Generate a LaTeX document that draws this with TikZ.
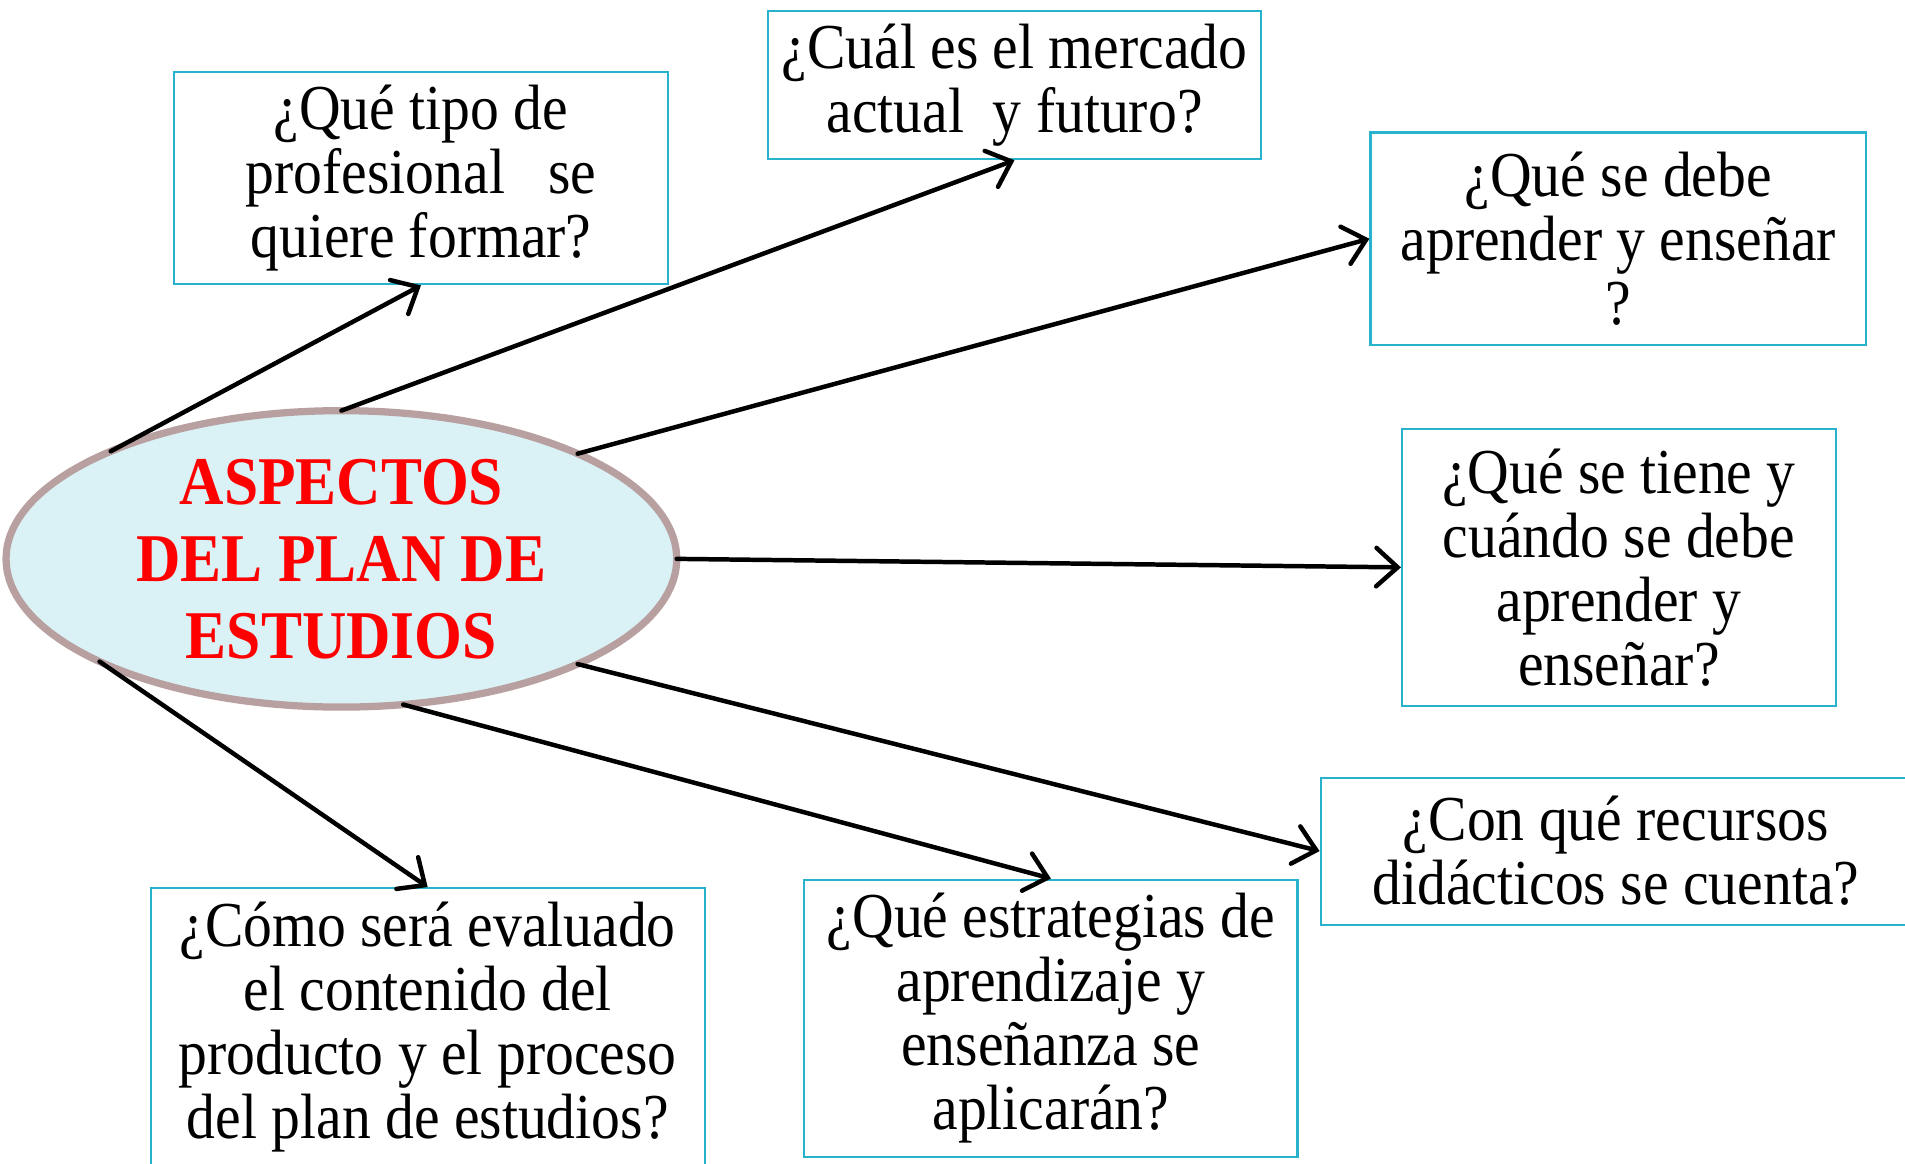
\documentclass[tikz,border=0pt]{standalone}
\usepackage{fontspec}
\setmainfont[FakeStretch=0.9]{Liberation Serif}
\usetikzlibrary{shapes.geometric, arrows.meta}
\definecolor{boxline}{RGB}{40,178,204}
\definecolor{ovalfill}{RGB}{218,242,246}
\definecolor{ovalline}{RGB}{185,160,160}

\begin{document}
\begin{tikzpicture}[question/.style={draw=boxline, line width=.5pt, align=center, inner sep=0pt, font=\fontsize{15}{15}\selectfont},
	link/.style={line width=1.05pt, line cap=round, -{Straight Barb[length=5pt,width=9pt,line cap=round]}}]
	\useasboundingbox (0,0) rectangle (15.68,-9.58);
	\node[ellipse, draw=ovalline, fill=ovalfill, line width=1.7pt, minimum width=5.52cm, minimum height=2.44cm, inner sep=0pt, outer sep=0pt, align=center, text=red, font=\bfseries\fontsize{16}{18}\selectfont] (plan) at (2.81,-4.60) {ASPECTOS\\DEL PLAN DE\\ESTUDIOS};
	\node[question, minimum width=4.07cm, minimum height=1.75cm] (tipo) at (3.465,-1.465) {¿Qué tipo de\\profesional \ \ se\\quiere formar?};
	\node[question, minimum width=4.06cm, minimum height=1.22cm] (mercado) at (8.35,-0.70) {¿Cuál es el mercado\\actual \ y futuro?};
	\node[question, minimum width=4.08cm, minimum height=1.75cm] (debe) at (13.32,-1.965) {¿Qué se debe\\aprender y enseñar\\?};
	\node[question, minimum width=3.57cm, minimum height=2.28cm] (tiene) at (13.325,-4.67) {¿Qué se tiene y\\cuándo se debe\\aprender y\\enseñar?};
	\node[question, minimum width=4.86cm, minimum height=1.21cm] (recursos) at (13.30,-7.005) {¿Con qué recursos\\didácticos se cuenta?};
	\node[question, minimum width=4.06cm, minimum height=2.28cm] (estrategias) at (8.65,-8.38) {¿Qué estrategias de\\aprendizaje y\\enseñanza se\\aplicarán?};
	\node[question, minimum width=4.56cm, minimum height=2.28cm] (evaluado) at (3.52,-8.45) {¿Cómo será evaluado\\el contenido del\\producto y el proceso\\del plan de estudios?};
	\draw[link] (plan.155.8) -- (tipo.south);
	\draw[link] (plan.90) -- (mercado.south);
	\draw[link] (plan.24.1) -- (debe.west);
	\draw[link] (plan.0) -- (tiene.west);
	\draw[link] (plan.336.2) -- (recursos.west);
	\draw[link] (plan.293.4) -- (estrategias.north);
	\draw[link] (plan.203.9) -- (evaluado.north);
\end{tikzpicture}
\end{document}
